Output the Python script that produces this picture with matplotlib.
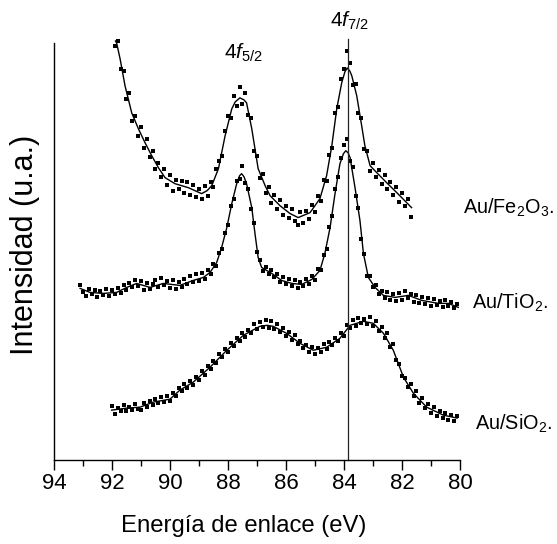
import numpy as np
import matplotlib
matplotlib.use("Agg")
import matplotlib.pyplot as plt
from matplotlib import font_manager as fm
from matplotlib.ticker import MultipleLocator

# ---------------- data (binding energy in eV, intensity in a.u.) ----------------
# Au/Fe2O3 fitted curve
fe_fit_ev = [91.88, 91.84, 91.72, 91.55, 91.32, 91.09, 90.86, 90.63, 90.40, 90.17, 89.83,
             89.37, 88.91, 88.72, 88.56, 88.33, 88.10, 87.87, 87.75, 87.59, 87.45, 87.36,
             87.18, 86.96, 86.72, 86.55, 86.21, 85.86, 85.58, 85.17, 84.83, 84.60, 84.42,
             84.25, 84.08, 83.97, 83.89, 83.80, 83.73, 83.56, 83.39, 83.28, 83.10, 82.87,
             82.53, 82.18, 81.67]
fe_fit_int = [420, 418, 402, 375, 348, 332, 318, 305, 293, 283, 277,
              273, 267, 270, 275, 292, 325, 352, 359, 363, 361, 358,
              332, 292, 275, 265, 255, 247, 243, 248, 262, 285, 315,
              352, 378, 389, 393, 390, 385, 365, 335, 315, 295, 288,
              278, 268, 253]
# Au/Fe2O3 measured points, 91.9 -> 81.7 eV, step 0.1 eV
fe_ev = np.arange(919, 816, -1) / 10.0
fe_int = [415, 420, 392, 390, 362, 368, 340, 345, 325, 334,
          313, 322, 304, 310, 292, 298, 284, 292, 276, 286,
          270, 281, 272, 280, 268, 279, 266, 276, 264, 272,
          262, 275, 265, 279, 274, 292, 300, 305, 330, 345,
          343, 365, 355, 374, 357, 368, 346, 343, 310, 305,
          283, 287, 268, 274, 258, 266, 252, 261, 246, 255,
          243, 252, 240, 236, 249, 238, 250, 242, 256, 249,
          265, 260, 281, 280, 306, 313, 348, 354, 382, 392,
          410, 398, 376, 377, 348, 343, 312, 310, 290, 298,
          284, 291, 277, 286, 272, 279, 266, 274, 259, 268,
          255, 262, 244]

# Au/TiO2 fitted curve
ti_fit_ev = [93.10, 92.76, 92.30, 91.84, 91.49, 91.15, 90.69, 90.23, 89.66, 89.20, 88.85,
             88.62, 88.39, 88.22, 88.04, 87.87, 87.70, 87.60, 87.53, 87.45, 87.36, 87.18,
             87.07, 86.96, 86.84, 86.49, 86.15, 85.80, 85.46, 85.11, 84.83, 84.66, 84.48,
             84.31, 84.14, 84.02, 83.94, 83.86, 83.79, 83.62, 83.45, 83.33, 83.16, 82.93,
             82.64, 82.24, 81.78, 81.32, 80.75, 80.40, 80.06]
ti_fit_int = [172, 168, 167, 168, 173, 177, 173, 177, 175, 180, 183,
              188, 198, 213, 233, 257, 277, 285, 287, 284, 277, 253,
              227, 203, 193, 187, 180, 177, 176, 181, 190, 207, 233,
              267, 297, 307, 310, 308, 303, 273, 240, 207, 183, 173,
              165, 163, 165, 160, 157, 157, 153]
# Au/TiO2 measured points, 93.1 -> 80.1 eV, step 0.1 eV
ti_ev = np.arange(931, 800, -1) / 10.0
ti_int = [175, 168, 164, 171, 166, 170, 163, 169, 165, 171,
          164, 170, 166, 172, 167, 175, 170, 177, 173, 180,
          174, 179, 170, 177, 171, 176, 180, 173, 182, 175,
          179, 172, 180, 171, 178, 173, 181, 176, 184, 178,
          186, 179, 187, 181, 190, 186, 196, 194, 207, 212,
          228, 236, 255, 262, 280, 282, 295, 278, 272, 252,
          238, 209, 200, 189, 193, 186, 190, 183, 186, 178,
          183, 176, 181, 174, 180, 172, 178, 174, 181, 176,
          184, 180, 191, 190, 205, 212, 234, 245, 272, 284,
          303, 316, 322, 300, 294, 265, 253, 222, 206, 184,
          184, 173, 175, 166, 169, 162, 168, 160, 166, 159,
          167, 160, 169, 162, 166, 158, 165, 157, 163, 156,
          162, 154, 161, 155, 159, 153, 160, 154, 158, 152,
          156]

# Au/SiO2 fitted curve
si_fit_ev = [92.01, 91.49, 91.03, 90.58, 90.00, 89.66, 89.20, 88.62, 88.04, 87.47, 86.90,
             86.65, 86.44, 85.98, 85.52, 85.06, 84.60, 84.14, 83.79, 83.33, 82.99, 82.64,
             82.30, 81.95, 81.61, 81.15, 80.58, 80.10]
si_fit_int = [50, 52, 53, 58, 61, 70, 78, 93, 110, 125, 134,
              135, 134, 127, 117, 110, 113, 122, 135, 139, 137, 127,
              110, 83, 67, 53, 45, 42]
# Au/SiO2 measured points, 92.0 -> 80.1 eV, step 0.1 eV
si_ev = np.arange(920, 800, -1) / 10.0
si_int = [54, 46, 52, 49, 55, 49, 53, 50, 56, 51,
          50, 57, 53, 59, 55, 61, 57, 63, 58, 64,
          59, 67, 64, 72, 69, 76, 72, 79, 75, 83,
          80, 89, 85, 94, 91, 99, 97, 106, 103, 111,
          108, 117, 114, 122, 119, 127, 123, 130, 127, 136,
          131, 138, 133, 140, 132, 139, 131, 136, 128, 132,
          124, 128, 120, 125, 116, 119, 112, 115, 108, 113,
          106, 112, 108, 116, 111, 118, 115, 122, 119, 127,
          124, 135, 132, 140, 134, 142, 137, 141, 136, 143,
          134, 139, 129, 133, 122, 127, 113, 116, 100, 96,
          84, 82, 73, 76, 64, 69, 57, 62, 52, 56,
          47, 53, 44, 49, 42, 47, 40, 45, 39, 44]

peak_line_ev = 83.87
x_ticks = [94, 92, 90, 88, 86, 84, 82, 80]
sample_labels = [r"Au/Fe$_2$O$_3$.", r"Au/TiO$_2$.", r"Au/SiO$_2$."]
peak_labels = [r"4$\mathit{f}_{\mathregular{5/2}}$", r"4$\mathit{f}_{\mathregular{7/2}}$"]

# ---------------- fonts ----------------
names = {f.name for f in fm.fontManager.ttflist}
if "Liberation Sans Narrow" in names:
    NARROW = "Liberation Sans Narrow"
    k = 1.15
else:
    NARROW = "Liberation Sans"
    k = 1.0
REG = "Liberation Sans"

plt.rcParams["font.family"] = [NARROW, "DejaVu Sans"]
plt.rcParams["mathtext.fontset"] = "custom"
plt.rcParams["mathtext.rm"] = NARROW
plt.rcParams["mathtext.it"] = NARROW + ":italic"
plt.rcParams["mathtext.default"] = "regular"

# ---------------- figure ----------------
W, H = 557, 544
fig = plt.figure(figsize=(W / 100, H / 100), dpi=100)
ax = fig.add_axes([54 / W, 84 / H, 406 / W, 417 / H])

def trim(x, y):
    n = min(len(x), len(y))
    return np.asarray(x[:n]), np.asarray(y[:n])

for ev, it, fev, fit in [(fe_ev, fe_int, fe_fit_ev, fe_fit_int),
                         (ti_ev, ti_int, ti_fit_ev, ti_fit_int),
                         (si_ev, si_int, si_fit_ev, si_fit_int)]:
    xs, ys = trim(ev, it)
    ax.plot(xs, ys, linestyle="none", marker="s", markersize=2.6,
            color="black", markeredgewidth=0, clip_on=False)
    ax.plot(fev, fit, color="black", linewidth=1.0, clip_on=False)

ax.plot([peak_line_ev, peak_line_ev], [0, 422], color="#222222",
        linewidth=0.9, clip_on=False)

ax.set_xlim(94, 80)
ax.set_ylim(0, 418)
ax.set_xticks(x_ticks)
ax.xaxis.set_minor_locator(MultipleLocator(1))
ax.set_yticks([])
for s in ("top", "right"):
    ax.spines[s].set_visible(False)
for s in ("left", "bottom"):
    ax.spines[s].set_linewidth(1.0)
ax.tick_params(axis="x", which="major", direction="out", length=7, width=1.0,
               labelsize=16 * k, pad=2.5)
ax.tick_params(axis="x", which="minor", direction="out", length=4.5, width=1.0)

ax.set_xlabel("Energía de enlace (eV)", fontsize=17.2 * k)
ax.xaxis.set_label_coords(0.468, -0.158)
ax.xaxis.label.set_va("center")

ax.set_ylabel("Intensidad (u.a.)", fontsize=22, family=[REG, "DejaVu Sans"])
ax.yaxis.set_label_coords(-0.071, 0.516)
ax.yaxis.label.set_va("center")

# sample labels (right side)
for lab, (xe, yb) in zip(sample_labels, [(79.90, 247), (79.59, 152), (79.48, 30)]):
    ax.text(xe, yb, lab, ha="left", va="baseline", fontsize=14.3 * k)

# peak labels
for lab, (xe, yc) in zip(peak_labels, [(87.48, 408), (83.81, 440)]):
    ax.text(xe, yc, lab, ha="center", va="center", fontsize=15 * k)

fig.savefig("out.png", dpi=100)
